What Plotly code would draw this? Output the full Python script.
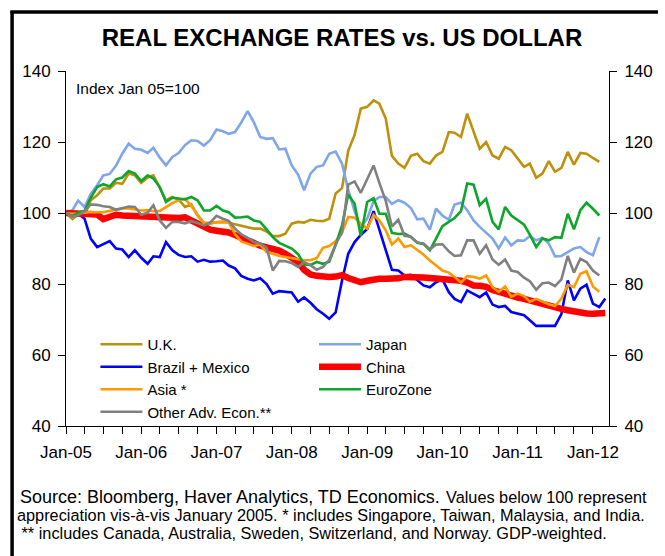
import pandas as pd
import plotly.graph_objects as go

# ---------------- data (monthly, Jan-2005 onward; Index Jan 05 = 100) ----------------
months = pd.date_range("2005-01-01", periods=87, freq="MS")

tick_dates = ["2005-01-01", "2006-01-01", "2007-01-01", "2008-01-01",
              "2009-01-01", "2010-01-01", "2011-01-01", "2012-01-01"]
tick_labels = ["Jan-05", "Jan-06", "Jan-07", "Jan-08", "Jan-09", "Jan-10", "Jan-11", "Jan-12"]

uk = [100, 98.3, 99.6, 99.3, 103.6, 105, 106.9, 106.9, 108.5, 108.2,
      111.1, 110.6, 108.5, 110, 110.6, 106.9, 103.6, 104.5, 103.8, 101.7,
      102.4, 99.3, 97.3, 97.0, 97.4, 97.5, 97.4, 96.8, 96.3, 96.0,
      95.6, 95.6, 94.8, 93.5, 93.5, 94.2, 97.0, 97.5, 97.3, 98.1,
      97.8, 97.7, 98.4, 105.5, 107.0, 117.5, 122.0, 129.4, 129.9, 131.7,
      130.8, 126.6, 116.1, 113.9, 112.7, 116.1, 116.7, 114.6, 113.9, 116.2,
      117.2, 122.8, 122.6, 121.4, 128.0, 122.8, 118.1, 120.0, 116.2, 115.3,
      118.6, 117.7, 115.3, 113.0, 113.9, 109.9, 111.1, 114.6, 111.6, 112.7,
      117.2, 113.6, 116.9, 116.7, 115.5, 114.4]

japan = [100, 100.8, 103.5, 101.7, 105.4, 107.8, 110.6, 111.0, 113.4, 116.7,
         119.5, 118.1, 117.8, 116.9, 118.4, 115.6, 113.4, 115.8, 116.9, 119.1,
         120.5, 120.3, 119.0, 120.5, 123.5, 123.0, 122.3, 122.8, 125.5, 128.7,
         125.6, 121.4, 120.9, 121.1, 117.9, 118.1, 113.4, 110.8, 106.4, 111.1,
         113.0, 113.4, 116.7, 117.3, 113.9, 106.5, 100.5, 96.0, 98.4, 103.3,
         104.5, 104.5, 102.6, 103.6, 102.9, 101.4, 98.2, 98.4, 95.3, 101.2,
         99.3, 98.1, 102.4, 102.9, 100.8, 97.9, 96.1, 94.5, 92.8, 90.0,
         93.1, 90.9, 92.3, 92.2, 93.5, 92.3, 93.0, 91.4, 87.8, 87.9,
         89.0, 90.0, 90.4, 89.0, 88.1, 93.2]

brazil_mexico = [100, 99.8, 99.8, 98.4, 92.8, 90.4, 91.2, 92.1, 90.0, 89.7,
                 87.6, 89.5, 87.4, 85.7, 87.8, 87.6, 91.8, 89.5, 88.2, 87.6,
                 87.8, 86.3, 86.8, 86.3, 86.4, 86.6, 85.2, 84.4, 82.3, 81.5,
                 81.0, 81.6, 80.0, 77.3, 78.0, 77.7, 77.6, 75.0, 76.2, 74.7,
                 72.9, 71.6, 70.2, 72.0, 81.0, 88.5, 91.8, 93.8, 95.5, 100.5,
                 95.5, 89.5, 84.0, 83.8, 82.4, 82.6, 81.0, 79.6, 79.1, 80.5,
                 81.3, 77.7, 75.8, 74.9, 78.2, 77.3, 76.3, 77.6, 74.2, 73.5,
                 73.8, 72.1, 71.6, 71.2, 69.8, 68.2, 68.2, 68.2, 68.2, 71.5,
                 81.0, 75.4, 78.7, 79.8, 74.5, 73.5, 75.9]

china = [100, 100, 99.9, 99.9, 99.8, 99.6, 98.3, 98.8, 99.5, 99.3,
         99.2, 99.0, 98.9, 98.8, 98.6, 98.5, 98.4, 98.5, 98.6, 98.8,
         98.0, 97.0, 96.0, 95.3, 95.0, 94.8, 94.5, 93.8, 93.0, 92.2,
         91.3, 90.8, 90.3, 90.0, 89.4, 88.5, 87.6, 86.2, 84.0, 82.7,
         82.3, 82.0, 82.0, 82.1, 82.5, 81.7, 80.9, 80.5, 80.9, 81.4,
         81.5, 81.5, 81.4, 81.6, 82.0, 81.8, 81.8, 81.8, 81.7, 81.6,
         81.6, 81.4, 81.2, 80.9, 80.4, 79.6, 79.5, 79.2, 78.3, 77.7,
         77.1, 76.5, 76.2, 75.8, 75.3, 74.9, 74.4, 73.9, 73.5, 73.0,
         72.6, 72.2, 72.1, 71.7, 71.6, 71.7, 71.8]

asia = [100, 99.8, 99.9, 100.2, 100.3, 100.2, 100.2, 100.6, 101.0, 101.3,
        101.3, 100.9, 100.7, 100.8, 100.5, 100.6, 101.8, 102.8, 103.6, 104.0,
        102.0, 99.5, 97.0, 97.3, 97.5, 97.5, 97.4, 94.0, 92.0, 91.3,
        90.7, 91.1, 89.0, 88.5, 87.9, 87.6, 87.3, 86.9, 86.7, 86.7,
        87.3, 90.2, 90.7, 92.0, 94.6, 98.9, 98.7, 97.0, 95.6, 99.5,
        97.9, 95.1, 91.1, 92.8, 90.4, 90.9, 89.6, 88.3, 86.6, 85.3,
        83.8, 83.2, 82.0, 80.4, 82.2, 82.0, 81.5, 82.4, 79.1, 77.8,
        79.3, 76.4, 77.3, 76.6, 75.0, 75.8, 75.0, 74.3, 73.8, 75.9,
        79.8, 79.1, 82.9, 83.6, 79.3, 77.8]

eurozone = [100, 99.1, 100.1, 100.6, 104.3, 107.3, 108.1, 107.5, 109.5, 110.0,
            111.8, 111.1, 109.0, 110.6, 109.7, 107.3, 103.1, 104.3, 104.1, 103.8,
            104.5, 103.6, 100.7, 100.7, 102.0, 100.7, 100.2, 98.7, 98.8, 99.0,
            97.9, 97.5, 95.4, 93.2, 91.6, 90.7, 90.0, 88.4, 85.5, 85.4,
            86.2, 85.7, 86.3, 91.0, 96.5, 105.2, 102.6, 93.5, 103.1, 104.2,
            99.8, 99.8, 94.4, 94.1, 94.2, 93.2, 91.6, 91.3, 89.5, 92.8,
            96.3, 97.5, 98.6, 100.5, 108.3, 108.0, 102.2, 104.0, 97.5, 95.4,
            101.7, 99.3, 97.9, 96.7, 93.9, 90.4, 92.8, 92.3, 93.2, 93.0,
            99.8, 95.4, 100.8, 102.9, 101.2, 99.3]

other_adv = [100, 98.9, 99.4, 100.5, 102.4, 102.3, 101.9, 101.7, 100.9, 101.3,
             101.8, 101.7, 99.5, 100.1, 102.2, 97.9, 95.8, 97.5, 97.5, 97.1,
             97.7, 97.2, 96.5, 97.3, 99.2, 98.4, 97.8, 95.6, 94.0, 93.0,
             91.8, 91.4, 90.2, 83.8, 86.5, 86.4, 85.9, 84.8, 86.1, 85.3,
             84.0, 84.8, 86.8, 91.2, 94.5, 108.0, 108.9, 105.7, 109.5, 113.4,
             108.5, 103.4, 96.2, 98.1, 93.6, 93.3, 91.7, 91.4, 89.8, 91.1,
             91.2, 89.2, 87.9, 88.1, 92.3, 92.3, 88.5, 90.9, 86.9, 85.4,
             86.9, 83.8, 83.4, 81.8, 80.8, 78.4, 80.2, 80.4, 79.4, 81.3,
             87.9, 83.2, 87.1, 86.2, 83.8, 82.4]

# --------------------------------- figure ---------------------------------
FONT = "Liberation Sans, Arial, sans-serif"

series = [
    ("U.K.", uk, "#BF900C", 2.6, "legend"),
    ("Japan", japan, "#7FA6EA", 2.6, "legend2"),
    ("Brazil + Mexico", brazil_mexico, "#0000FF", 2.6, "legend"),
    ("China", china, "#FF0000", 6.5, "legend2"),
    ("Asia *", asia, "#FF9900", 2.6, "legend"),
    ("EuroZone", eurozone, "#0CA62A", 2.6, "legend2"),
    ("Other Adv. Econ.**", other_adv, "#808080", 2.6, "legend"),
]

fig = go.Figure()
for name, vals, color, width, leg in series:
    fig.add_trace(go.Scatter(
        x=months[:len(vals)], y=vals, name=name, mode="lines",
        line=dict(color=color, width=width), legend=leg,
        hoverinfo="skip",
    ))

W, H = 665, 556
L, R, T, B = 66, 45, 71, 130
pw, ph = W - L - R, H - T - B


def px(xp):
    return (xp - L) / pw


def py(yp):
    return (H - B - yp) / ph


LEG_FONT = 15
axis_common = dict(
    ticks="outside", ticklen=7, tickwidth=1, tickcolor="black",
    showline=True, linecolor="black", linewidth=1,
    showgrid=False, zeroline=False,
    tickfont=dict(size=17, family=FONT),
)

fig.update_layout(
    width=W, height=H,
    margin=dict(l=L, r=R, t=T, b=B),
    paper_bgcolor="white", plot_bgcolor="white",
    font=dict(family=FONT, color="black", size=16),
    showlegend=True,
    title=dict(text="<b>REAL EXCHANGE RATES vs. US DOLLAR</b>",
               font=dict(family=FONT, size=24, color="black"),
               xref="container", yref="container",
               x=342 / W, y=1 - 38 / H, xanchor="center", yanchor="middle"),
    xaxis=dict(
        type="date", range=["2005-01-01", "2012-03-19"],
        tickmode="array", tickvals=tick_dates, ticktext=tick_labels,
        ticklabelstandoff=4,
        minor=dict(ticks="outside", ticklen=7, tickwidth=1, tickcolor="black",
                   dtick="M3", tick0="2005-01-01", showgrid=False),
        **axis_common,
    ),
    yaxis=dict(range=[40, 140], dtick=20, tick0=40, ticklabelstandoff=4, **axis_common),
    yaxis2=dict(overlaying="y", side="right", range=[40, 140], dtick=20, tick0=40,
                ticklabelstandoff=4, **axis_common),
    legend=dict(x=px(96), y=py(328), xanchor="left", yanchor="top",
                bgcolor="rgba(0,0,0,0)", borderwidth=0,
                font=dict(size=LEG_FONT, family=FONT), itemwidth=42,
                tracegroupgap=0),
    legend2=dict(x=px(319), y=py(328), xanchor="left", yanchor="top",
                 bgcolor="rgba(0,0,0,0)", borderwidth=0,
                 font=dict(size=LEG_FONT, family=FONT), itemwidth=42,
                 tracegroupgap=0),
)

# dummy trace so the right-hand axis is drawn
fig.add_trace(go.Scatter(x=[months[0]], y=[None], yaxis="y2", showlegend=False,
                         hoverinfo="skip"))

annotations = [
    dict(text="Index Jan 05=100", x=px(74), y=py(88), xanchor="left", yanchor="middle",
         font=dict(size=15.5)),
    dict(text="Source: Bloomberg, Haver Analytics, TD Economics.", x=px(17), y=py(497),
         xanchor="left", yanchor="middle", font=dict(size=18)),
    dict(text="Values below 100 represent", x=px(661), y=py(497),
         xanchor="right", yanchor="middle", font=dict(size=16.3)),
    dict(text="appreciation vis-à-vis January 2005. * includes Singapore, Taiwan, Malaysia, and India.",
         x=px(14), y=py(515), xanchor="left", yanchor="middle", font=dict(size=16.3)),
    dict(text=" ** includes Canada, Australia, Sweden, Switzerland, and Norway. GDP-weighted.",
         x=px(14), y=py(533), xanchor="left", yanchor="middle", font=dict(size=16.3)),
]
for a in annotations:
    a.update(xref="paper", yref="paper", showarrow=False)
    a["font"] = dict(family=FONT, color="black", **a["font"])
    fig.add_annotation(**a)

# outer frame (left and top edges of the chart box)
fig.add_shape(type="line", xref="paper", yref="paper",
              x0=px(11), x1=px(11), y0=py(11), y1=py(H + 5),
              line=dict(color="black", width=3.5))
fig.add_shape(type="line", xref="paper", yref="paper",
              x0=px(9.25), x1=px(W + 5), y0=py(12), y1=py(12),
              line=dict(color="black", width=3.5))

fig.write_html(
    "out.html",
    config={"displayModeBar": False},
    post_script="document.body.style.margin='0';document.body.style.overflow='hidden';",
)
